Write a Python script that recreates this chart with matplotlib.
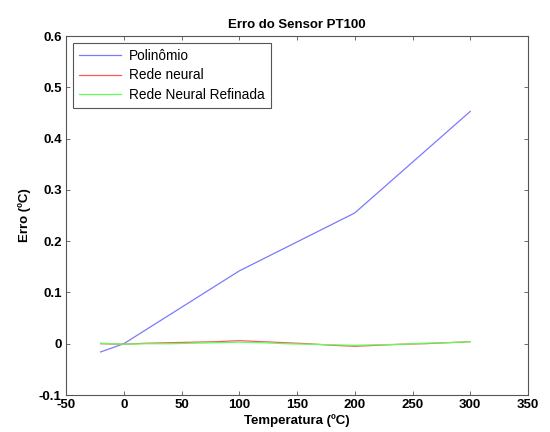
import matplotlib
matplotlib.use("Agg")
import matplotlib.pyplot as plt

plt.rcParams['font.family'] = ['Liberation Sans', 'DejaVu Sans']

# Polynomial fit error (ºC)
temp_poly = [-20, 0, 100, 200, 300]
err_poly = [-0.016, 0.0, 0.142, 0.255, 0.453]

# Neural-network errors (ºC)
temp_nn = [-20, 0, 20, 40, 60, 80, 100, 120, 140, 160, 180, 200, 220, 240, 260, 280, 300]
err_rede = [0.0, -0.001, 0.001, 0.002, 0.003, 0.004, 0.006, 0.004, 0.002, 0.0,
            -0.003, -0.005, -0.003, -0.001, 0.0, 0.002, 0.004]
err_refinada = [0.001, -0.001, 0.0, 0.0, 0.001, 0.002, 0.003, 0.002, 0.0, -0.001,
                -0.002, -0.003, -0.002, -0.001, 0.001, 0.002, 0.004]

xticks = [-50, 0, 50, 100, 150, 200, 250, 300, 350]
yticks = [-0.1, 0, 0.1, 0.2, 0.3, 0.4, 0.5, 0.6]

fig = plt.figure(figsize=(5.5, 4.32), dpi=100)
ax = fig.add_axes([0.12, 0.0856, 0.84, 0.831])

ax.plot(temp_poly, err_poly, color='#7a7aff', lw=0.9, label='Polinômio')
ax.plot(temp_nn, err_rede, color='#ff5a5a', lw=0.9, label='Rede neural')
ax.plot(temp_nn, err_refinada, color='#5cff5c', lw=0.9, label='Rede Neural Refinada')

ax.set_xlim(-50, 350)
ax.set_ylim(-0.1, 0.6)
ax.set_xticks(xticks)
ax.set_yticks(yticks)
ax.set_xticklabels([f'{t:g}' for t in xticks])
ax.set_yticklabels([f'{t:g}' for t in yticks])
ax.tick_params(direction='in', top=True, right=True, length=3, width=0.6,
               color='#555555', labelsize=9.5, pad=3)
for lbl in ax.get_xticklabels() + ax.get_yticklabels():
    lbl.set_fontweight('bold')
for sp in ax.spines.values():
    sp.set_color('#555555')
    sp.set_linewidth(0.8)

ax.set_title('Erro do Sensor PT100', fontsize=9.5, fontweight='bold', pad=6)
ax.set_xlabel('Temperatura (ºC)', fontsize=9.5, fontweight='bold', labelpad=2)
ax.set_ylabel('Erro (ºC)', fontsize=9.5, fontweight='bold', labelpad=6)

leg = ax.legend(loc='upper left', fontsize=9.8, fancybox=False, framealpha=1,
                edgecolor='#555555', borderaxespad=0.5, handlelength=3.1,
                labelspacing=0.4, borderpad=0.45, handletextpad=0.6)
leg.get_frame().set_linewidth(0.8)

fig.savefig('out.png', dpi=100)
